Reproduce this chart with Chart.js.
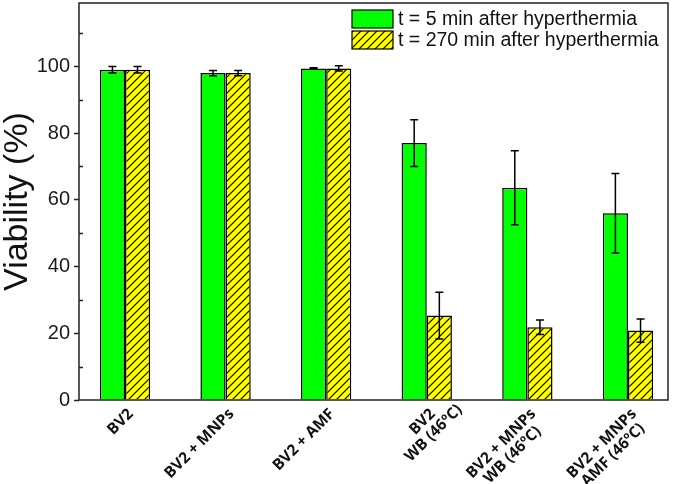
<!DOCTYPE html>
<html>
<head>
<meta charset="utf-8">
<script src="https://cdn.jsdelivr.net/npm/chart.js@4.4.0/dist/chart.umd.min.js"></script>
<style>
  html, body { margin: 0; padding: 0; background: #fff; }
  #wrap { width: 675px; height: 484px; }
</style>
</head>
<body>
<div id="wrap"><canvas id="grafico" width="675" height="484"></canvas></div>
<script>
// categorias e valores
const grupos = ["BV2", "BV2 + MNPs", "BV2 + AMF", ["BV2", "WB (46ºC)"], ["BV2 + MNPs", "WB (46ºC)"], ["BV2 + MNPs", "AMF (46ºC)"]];
const nomesSeries = ["t = 5 min after hyperthermia", "t = 270 min after hyperthermia"];
const viab5 = [99.0, 98.0, 99.4, 77.0, 63.6, 56.0];
const erro5 = [1.0, 0.8, 0.2, 7.0, 11.1, 11.9];
const viab270 = [99.0, 98.0, 99.4, 25.3, 21.8, 20.8];
const erro270 = [1.0, 0.8, 0.8, 7.0, 2.2, 3.5];
const ticksMenores = [10, 30, 50, 70, 90, 110];

// padrao hachurado amarelo
const criarHachura = () => {
    const c = document.createElement("canvas");
    c.width = 8;
    c.height = 8;
    const g = c.getContext("2d");
    g.fillStyle = "#ffff00";
    g.fillRect(0, 0, 8, 8);
    g.strokeStyle = "#000";
    g.lineWidth = 1.2;
    g.beginPath();
    g.moveTo(-1, 9); g.lineTo(9, -1);
    g.moveTo(-1, 1); g.lineTo(1, -1);
    g.moveTo(7, 9); g.lineTo(9, 7);
    g.stroke();
    return g.createPattern(c, "repeat");
};
const hachura = criarHachura();

const pontos = (vals) => vals.map((v, i) => ({ x: i + 1, y: v }));

const barrasErro = {
    id: "barrasErro",
    afterDatasetsDraw(chart) {
        const ctx = chart.ctx;
        const y = chart.scales.y;
        ctx.save();
        ctx.strokeStyle = "#000";
        ctx.lineWidth = 1.5;
        chart.data.datasets.forEach((ds, d) => {
            const meta = chart.getDatasetMeta(d);
            meta.data.forEach((bar, i) => {
                const v = ds.data[i].y;
                const e = ds.erros[i];
                const yt = y.getPixelForValue(v + e);
                const yb = y.getPixelForValue(v - e);
                ctx.beginPath();
                ctx.moveTo(bar.x, yt); ctx.lineTo(bar.x, yb);
                ctx.moveTo(bar.x - 4, yt); ctx.lineTo(bar.x + 4, yt);
                ctx.moveTo(bar.x - 4, yb); ctx.lineTo(bar.x + 4, yb);
                ctx.stroke();
            });
        });
        ctx.restore();
    },
};

// rotulos do eixo x a 45 graus, linhas centradas na primeira (como no Origin)
const rotulosX = {
    id: "rotulosX",
    afterDraw(chart) {
        const { ctx } = chart;
        const x = chart.scales.x;
        ctx.save();
        ctx.font = "bold 15.5px 'Open Sans', sans-serif";
        ctx.fillStyle = "#111";
        ctx.textBaseline = "middle";
        x.ticks.forEach((t) => {
            const rot = grupos[Math.round(t.value) - 1];
            if (!rot) return;
            const linhas = Array.isArray(rot) ? rot : [rot];
            const px = x.getPixelForValue(t.value);
            ctx.save();
            ctx.translate(px + 6, x.top + 11.5);
            ctx.rotate(-Math.PI / 4);
            const meio = -ctx.measureText(linhas[0]).width / 2;
            ctx.textAlign = "center";
            linhas.forEach((l, k) => ctx.fillText(l, meio, k * 16));
            ctx.restore();
        });
        ctx.restore();
    },
};

const moldura = {
    id: "moldura",
    afterDraw(chart) {
        const { ctx, chartArea: a } = chart;
        const y = chart.scales.y;
        ctx.save();
        ctx.strokeStyle = "#222";
        ctx.lineWidth = 1.5;
        ctx.strokeRect(a.left, a.top, a.right - a.left, a.bottom - a.top);
        ctx.beginPath();
        ticksMenores.forEach((t) => {
            const p = Math.round(y.getPixelForValue(t)) + 0.5;
            ctx.moveTo(a.left, p);
            ctx.lineTo(a.left + 4, p);
        });
        ctx.stroke();

        // legenda dentro da area do grafico
        const cores = chart.data.datasets.map((ds) => ds.backgroundColor);
        ctx.font = "19.5px 'Liberation Sans', Arial, sans-serif";
        ctx.textBaseline = "middle";
        nomesSeries.forEach((nome, i) => {
            const top = 10 + i * 21;
            ctx.fillStyle = cores[i];
            ctx.fillRect(352, top, 41, 18);
            ctx.lineWidth = 1.2;
            ctx.strokeStyle = "#000";
            ctx.strokeRect(352, top, 41, 18);
            ctx.fillStyle = "#111";
            ctx.fillText(nome, 398, top + 9.5);
        });
        ctx.restore();
    },
};

new Chart(document.getElementById("grafico").getContext("2d"), {
    type: "bar",
    data: {
        datasets: [
            {
                label: nomesSeries[0],
                data: pontos(viab5),
                erros: erro5,
                backgroundColor: "#00ff00",
                borderColor: "#000",
                borderWidth: 1.5,
            },
            {
                label: nomesSeries[1],
                data: pontos(viab270),
                erros: erro270,
                backgroundColor: hachura,
                borderColor: "#000",
                borderWidth: 1.5,
            },
        ],
    },
    options: {
        responsive: false,
        animation: false,
        categoryPercentage: 0.5,
        barPercentage: 1,
        layout: { padding: { top: 3, right: 7, left: 0, bottom: 0 } },
        plugins: {
            legend: { display: false },
            tooltip: { enabled: false },
        },
        scales: {
            x: {
                type: "linear",
                bounds: "data",
                offset: false,
                min: 0.543,
                max: 6.398,
                afterBuildTicks: (s) => {
                    s.ticks = grupos.map((g, i) => ({ value: i + 1 }));
                },
                afterFit: (s) => {
                    s.height = 84;
                    s.paddingLeft = 0;
                    s.paddingRight = 0;
                },
                grid: { display: false, drawTicks: false, offset: false },
                border: { display: false },
                ticks: { display: false, autoSkip: false },
            },
            y: {
                min: 0,
                max: 119,
                afterFit: (s) => {
                    s.width = 79;
                    s.paddingTop = 0;
                    s.paddingBottom = 0;
                },
                grid: { drawOnChartArea: false, tickLength: 5, tickColor: "#222", tickWidth: 1.5 },
                border: { display: false },
                ticks: {
                    stepSize: 20,
                    includeBounds: false,
                    padding: 4,
                    color: "#1a1a1a",
                    font: { family: "'Liberation Sans', Arial, sans-serif", size: 20 },
                },
                title: {
                    display: true,
                    text: "Viability (%)",
                    color: "#111",
                    padding: { top: 1, bottom: 0 },
                    font: { family: "'Liberation Sans', Arial, sans-serif", size: 34, lineHeight: 1 },
                },
            },
        },
    },
    plugins: [barrasErro, rotulosX, moldura],
});
</script>
</body>
</html>
